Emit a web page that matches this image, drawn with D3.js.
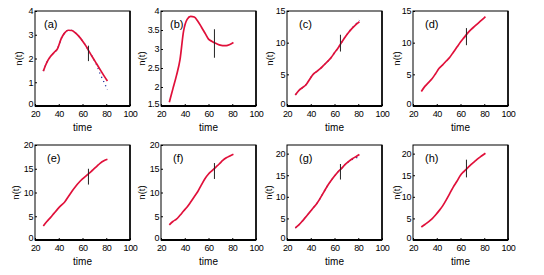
<!DOCTYPE html>
<html>
<head>
<meta charset="utf-8">
<script src="https://cdn.jsdelivr.net/npm/d3@7"></script>
<style>
  body { margin: 0; background: #fff; }
  svg { display: block; }
  text { font-family: "Liberation Sans", Arial, sans-serif; fill: #000; }
</style>
</head>
<body>
<div class="grid"></div>
<script>
// time samples shared by all panels
const times = [27, 30, 33, 36, 39, 42, 45, 48, 51, 54, 57, 60, 63, 66, 69, 72, 75, 78, 81];

// fitted curves (red)
const fitA = [1.47, 1.84, 2.08, 2.25, 2.42, 2.83, 3.08, 3.19, 3.18, 3.08, 2.93, 2.74, 2.52, 2.26, 2.01, 1.77, 1.52, 1.28, 1.05];
const fitB = [1.6, 1.95, 2.3, 2.72, 3.47, 3.78, 3.86, 3.84, 3.73, 3.58, 3.42, 3.26, 3.2, 3.15, 3.11, 3.09, 3.09, 3.12, 3.17];
const fitC = [1.75, 2.45, 2.9, 3.35, 4.2, 5.0, 5.45, 5.9, 6.45, 7.0, 7.6, 8.4, 9.15, 10.05, 10.9, 11.65, 12.3, 12.85, 13.3];
const fitD = [2.3, 3.1, 3.7, 4.3, 5.1, 5.95, 6.5, 7.1, 7.7, 8.5, 9.3, 10.1, 10.8, 11.5, 12.1, 12.6, 13.1, 13.6, 14.1];
const fitE = [2.95, 3.9, 4.7, 5.6, 6.5, 7.3, 8.0, 9.1, 10.2, 11.2, 12.1, 12.85, 13.5, 14.15, 14.8, 15.5, 16.2, 16.7, 17.0];
const fitF = [3.2, 3.9, 4.4, 5.2, 6.1, 6.95, 8.0, 9.1, 10.2, 11.6, 12.9, 13.9, 14.6, 15.3, 16.0, 16.75, 17.3, 17.7, 18.05];
const fitG = [2.8, 3.5, 4.4, 5.4, 6.4, 7.4, 8.4, 9.7, 11.1, 12.5, 13.7, 14.8, 15.8, 16.6, 17.5, 18.2, 18.8, 19.3, 19.8];
const fitH = [3.0, 3.6, 4.2, 4.9, 5.8, 6.8, 7.9, 9.3, 10.8, 12.3, 13.6, 15.0, 15.9, 16.7, 17.5, 18.2, 18.9, 19.5, 20.1];

// observed data (blue dots), only visible where it leaves the fit
const obsA = [1.47, 1.84, 2.08, 2.25, 2.42, 2.83, 3.08, 3.19, 3.18, 3.08, 2.93, 2.74, 2.52, 2.26, 2.01, 1.72, 1.33, 1.02, 0.68];
const obsC = [1.75, 2.45, 2.9, 3.35, 4.2, 5.0, 5.45, 5.9, 6.45, 7.0, 7.6, 8.4, 9.15, 10.05, 10.9, 11.65, 12.35, 12.95, 13.55];
const obsG = [2.8, 3.5, 4.4, 5.4, 6.4, 7.4, 8.4, 9.7, 11.1, 12.5, 13.7, 14.8, 15.8, 16.6, 17.5, 18.15, 18.65, 19.0, 19.35];

// vertical marker at t = 65 : [low, high]
const markA = [1.89, 2.54];
const markB = [2.77, 3.52];
const markC = [8.6, 11.25];
const markD = [9.6, 12.3];
const markE = [11.67, 15.0];
const markF = [12.85, 16.2];
const markG = [14.0, 17.6];
const markH = [14.5, 18.6];

const xTicks = [20, 40, 60, 80, 100];
const labels = ["(a)", "(b)", "(c)", "(d)", "(e)", "(f)", "(g)", "(h)"];
const yDomains = [[0, 4], [1.5, 4], [0, 15], [0, 15], [0, 20], [0, 20], [0, 22], [0, 22]];
const yTicks = [
  [0, 1, 2, 3, 4], [1.5, 2, 2.5, 3, 3.5, 4], [0, 5, 10, 15], [0, 5, 10, 15],
  [0, 5, 10, 15, 20], [0, 5, 10, 15, 20], [0, 5, 10, 15, 20], [0, 5, 10, 15, 20]
];
const fits = [fitA, fitB, fitC, fitD, fitE, fitF, fitG, fitH];
const obs = [obsA, null, obsC, null, null, null, obsG, null];
const marks = [markA, markB, markC, markD, markE, markF, markG, markH];

const width = 544, height = 275;
const svg = d3.select('.grid').append('svg')
  .attr('width', width).attr('height', height);

const lefts = [35, 161, 287, 413];
const tops = [11, 145];
const pw = 95, ph = 95;
// horizontal offset of the n(t) title from the box
const yTitleOff = [-13, -16, -14, -13, -16, -16, -15, -13];

labels.forEach(function (lab, i) {
  const col = i % 4, row = Math.floor(i / 4);
  const g = svg.append('g')
    .attr('transform', 'translate(' + lefts[col] + ',' + tops[row] + ')');

  const x = d3.scaleLinear().domain([20, 100]).range([0, pw]);
  const y = d3.scaleLinear().domain(yDomains[i]).range([ph, 0]);

  // axes
  const xa = g.append('g').attr('transform', 'translate(0,' + ph + ')')
    .call(d3.axisBottom(x).tickValues(xTicks).tickSize(-2).tickPadding(5));
  const ya = g.append('g')
    .call(d3.axisLeft(y).tickValues(yTicks[i]).tickSize(-2).tickPadding(2)
      .tickFormat(d3.format('')));
  [xa, ya].forEach(function (a) {
    a.select('.domain').remove();
    a.selectAll('line').attr('stroke', '#000');
    a.selectAll('text')
      .attr('font-size', 9)
      .attr('letter-spacing', -0.4)
      .attr('font-family', '"Liberation Sans", Arial, sans-serif');
  });
  // lift the bottom y label a touch so it clears the first x label
  ya.selectAll('.tick text').filter(function (d) { return d === yDomains[i][0]; })
    .attr('dy', '0.1em');

  // box
  g.append('rect').attr('width', pw).attr('height', ph)
    .attr('fill', 'none').attr('stroke', '#000').attr('stroke-width', 1);
  g.append('line').attr('x1', 0).attr('x2', pw).attr('y1', ph).attr('y2', ph)
    .attr('stroke', '#000').attr('stroke-width', 2);
  g.append('line').attr('x1', pw).attr('x2', pw).attr('y1', 0).attr('y2', ph)
    .attr('stroke', '#000').attr('stroke-width', 1.5);

  const line = d3.line()
    .x(function (d, k) { return x(times[k]); })
    .y(function (d) { return y(d); })
    .curve(d3.curveMonotoneX);

  // data dots
  if (obs[i]) {
    g.append('path').datum(obs[i])
      .attr('d', line)
      .attr('fill', 'none')
      .attr('stroke', '#1a2a9a')
      .attr('stroke-width', 1.3)
      .attr('stroke-dasharray', '1.2,3.5');
  }

  // fit curve
  g.append('path').datum(fits[i])
    .attr('d', line)
    .attr('fill', 'none')
    .attr('stroke', '#e0103a')
    .attr('stroke-width', 1.7);

  // marker at t = 65
  g.append('line')
    .attr('x1', x(65)).attr('x2', x(65))
    .attr('y1', y(marks[i][0])).attr('y2', y(marks[i][1]))
    .attr('stroke', '#222').attr('stroke-width', 1);

  // panel label
  g.append('text')
    .attr('x', col < 2 && row == 0 ? 9 : 12)
    .attr('y', 17)
    .attr('font-size', 11)
    .attr('font-family', i < 2 ? '"Liberation Sans", Arial, sans-serif' : '"Liberation Serif", "Times New Roman", serif')
    .text(lab);

  // axis titles
  g.append('text')
    .attr('x', pw / 2).attr('y', ph + 25)
    .attr('text-anchor', 'middle')
    .attr('font-size', 10)
    .text('time');
  g.append('text')
    .attr('transform', 'translate(' + yTitleOff[i] + ',' + (ph / 2) + ') rotate(-90)')
    .attr('text-anchor', 'middle')
    .attr('font-size', 9.5)
    .text('n(t)');
});
</script>
</body>
</html>
